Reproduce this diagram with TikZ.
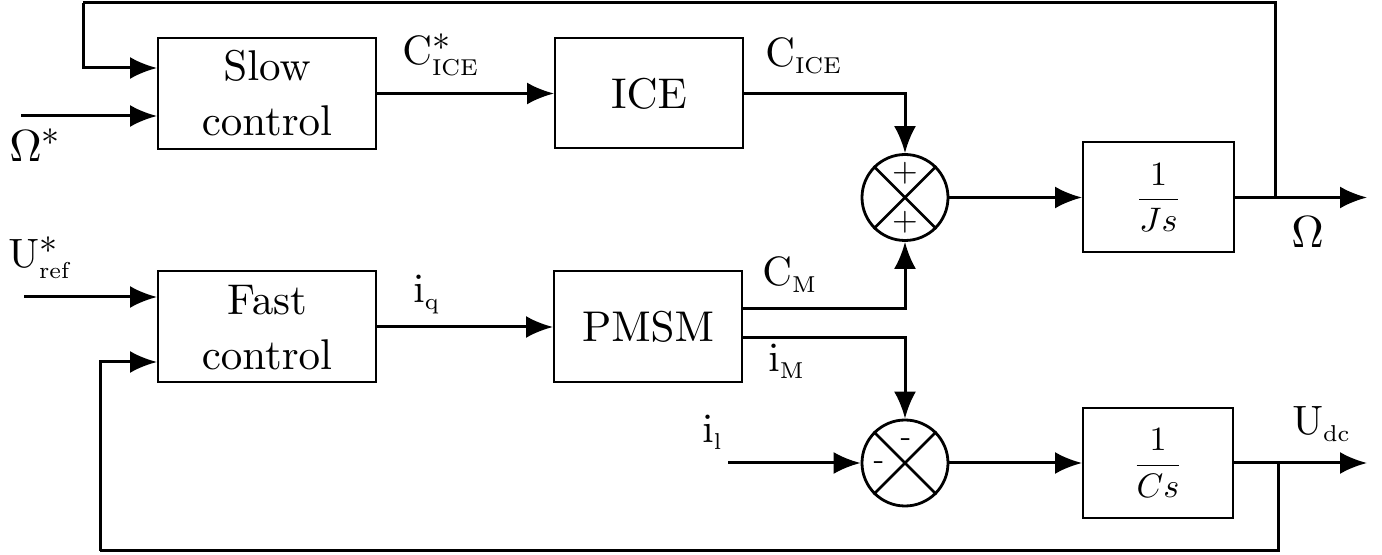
\RequirePackage{fix-cm}
\documentclass[tikz,border=0pt]{standalone}
% scale the Computer Modern designs freely (main text from the 10pt design,
% sub- and superscripts from the 7pt design)
\DeclareFontShape{OT1}{cmr}{m}{n}{<-15.5>cmr7 <15.5->cmr10}{}
\DeclareFontShape{OML}{cmm}{m}{it}{<-15.5>cmmi7 <15.5->cmmi10}{}
\DeclareFontShape{OMS}{cmsy}{m}{n}{<-14>cmsy7 <14->cmsy10}{}
\DeclareMathSizes{20.5}{20.5}{11.5}{8}
\DeclareMathSizes{22.5}{22.5}{12.5}{9}
\newcommand\cmtext[2]{\fontencoding{OT1}\fontfamily{cmr}\fontsize{#1}{#2}\selectfont}
% asterisk used as a superscript on reference signals
\newcommand\refstar{\hbox{\cmtext{18}{18}$\ast$}}
\usetikzlibrary{arrows.meta}
\begin{document}
\begin{tikzpicture}[x=0.5pt,y=-0.5pt,
  block/.style={draw, line width=1pt, inner sep=0pt, align=center,
    font=\cmtext{21.5}{27.5}},
  sumnode/.style={draw, circle, line width=1.4pt, minimum size=43pt, inner sep=0pt},
  wire/.style={line width=1.5pt},
  arr/.style={wire, -{Latex[length=13.5pt,width=11pt]}},
  lbl/.style={inner sep=0pt, anchor=base west, font=\cmtext{20.5}{24}},
  biglbl/.style={lbl, font=\cmtext{22.5}{26}},
  plussign/.style={inner sep=0pt, font=\cmtext{16.5}{18}},
  minussign/.style={inner sep=0pt, font=\cmtext{16}{18}}]
\useasboundingbox (0,0) rectangle (1382,555);

% blocks
\node[block, minimum width=109pt, minimum height=55.5pt] (slow) at (267,93.5) {Slow\\control};
\node[block, minimum width=94pt, minimum height=55pt] (ice) at (649,93.5) {ICE};
\node[sumnode] (s1) at (905,197.5) {};
\node[block, minimum width=75.5pt, minimum height=55pt,
  font=\cmtext{17}{20}] (js) at (1158.5,197.5) {$\displaystyle\frac{1}{Js}$};
\node[block, minimum width=109pt, minimum height=55.5pt] (fast) at (267,327) {Fast\\control};
\node[block, minimum width=94pt, minimum height=55.5pt] (pmsm) at (648,327) {PMSM};
\node[sumnode] (s2) at (905,463) {};
\node[block, minimum width=75pt, minimum height=55pt,
  font=\cmtext{17}{20}] (cs) at (1158,463) {$\displaystyle\frac{1}{Cs}$};

% crosses inside the summing junctions
\draw[line width=1.4pt] (s1.north east) -- (s1.south west) (s1.north west) -- (s1.south east);
\draw[line width=1.4pt] (s2.north east) -- (s2.south west) (s2.north west) -- (s2.south east);
\node[plussign] (p1) at (905,173) {+};
\node[plussign] (p2) at (905,222) {+};
\node[minussign] (m1) at (906,440) {-};
\node[minussign] (m2) at (879,463) {-};

% helper coordinates
\coordinate (omin) at (21,116);
\coordinate (uin) at (24,297);
\coordinate (ilin) at (728,463);
\coordinate (oout) at (1367,197.5);
\coordinate (uout) at (1367,463);
\coordinate (br1) at (1275,197.5);
\coordinate (br2) at (1278,463);
\coordinate (top) at (83,3);
\coordinate (bot) at (100,551);
\coordinate (y68) at (0,68);
\coordinate (yfb) at (0,362);
\coordinate (ycm) at (0,309);
\coordinate (yim) at (0,338);

% connectors
\draw[arr] (omin) -- (slow.west |- omin);
\draw[wire] (br1) |- (top);
\draw[arr] (top) |- (slow.west |- y68);
\draw[arr] (slow) -- (ice);
\draw[arr] (ice) -| (s1);
\draw[arr] (s1) -- (js);
\draw[arr] (js) -- (oout);

\draw[arr] (uin) -- (fast.west |- uin);
\draw[wire] (br2) |- (bot);
\draw[arr] (bot) |- (fast.west |- yfb);
\draw[arr] (fast) -- (pmsm);
\draw[arr] (pmsm.east |- ycm) -| (s1);
\draw[arr] (pmsm.east |- yim) -| (s2);
\draw[arr] (ilin) -- (s2);
\draw[arr] (s2) -- (cs);
\draw[arr] (cs) -- (uout);

% signal labels
\node[biglbl] (lomegastar) at (9,162) {$\Omega^{\refstar}$};
\node[lbl] (lcicestar) at (402,65) {$\mathrm{C}^{\refstar}_{\mathrm{ICE}}$};
\node[lbl] (lcice) at (765,67) {$\mathrm{C}_{\mathrm{ICE}}$};
\node[biglbl] (lomega) at (1291,248) {$\Omega$};
\node[lbl] (luref) at (8,268) {$\mathrm{U}^{\refstar}_{\mathrm{ref}}$};
\node[lbl] (liq) at (413,303) {$\mathrm{i}_{\mathrm{q}}$};
\node[lbl] (lcm) at (762,286) {$\mathrm{C}_{\mathrm{M}}$};
\node[lbl] (lim) at (768,372) {$\mathrm{i}_{\mathrm{M}}$};
\node[lbl] (lil) at (702,443) {$\mathrm{i}_{\mathrm{l}}$};
\node[lbl] (ludc) at (1292,435) {$\mathrm{U}_{\mathrm{dc}}$};
\end{tikzpicture}
\end{document}
